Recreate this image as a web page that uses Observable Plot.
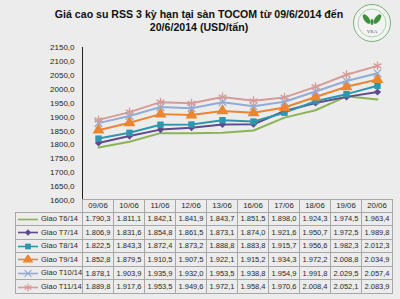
<!DOCTYPE html>
<html><head><meta charset="utf-8">
<script src="https://cdn.jsdelivr.net/npm/d3@7"></script>
<script src="https://cdn.jsdelivr.net/npm/@observablehq/plot@0.6"></script>
<style>
html,body{margin:0;padding:0;background:#ececec;}
#wrap{position:relative;width:400px;height:299px;overflow:hidden;background:#ececec;font-family:"Liberation Sans",Arial,sans-serif;}
#title{position:absolute;left:0;top:8px;width:398px;text-align:center;font-weight:bold;font-size:10.6px;line-height:13px;color:#111;}
#chart{position:absolute;left:0;top:0;}
#logo{position:absolute;left:352px;top:3px;}
table{position:absolute;left:15px;top:199px;border-collapse:collapse;table-layout:fixed;width:377px;font-size:7.5px;color:#2a2a2a;}
td,th{border:1px solid #a8a8a8;padding:0;text-align:center;white-space:nowrap;overflow:hidden;font-weight:normal;}
th{height:11.5px;font-size:7.8px;}
td{height:12.6px;}
th.blank{border:none;}
td.leg{text-align:left;}
td.leg svg{vertical-align:middle;margin-right:1px;}
</style></head>
<body>
<div id="wrap">
  <div id="chart"></div>
  <div id="title">Giá cao su RSS 3 kỳ hạn tại sàn TOCOM từ 09/6/2014 đến<br>20/6/2014 (USD/tấn)</div>
  <svg id="logo" width="40" height="40" viewBox="0 0 40 40">
    <circle cx="20" cy="20" r="18.5" fill="#f3f3f3" stroke="#7bb07b" stroke-width="1"/>
    <circle cx="20" cy="20" r="14" fill="none" stroke="#9cc79c" stroke-width="0.8"/>
    <ellipse cx="14.5" cy="16" rx="2.6" ry="5.5" fill="#3f8f3f" transform="rotate(-35 14.5 16)"/>
    <ellipse cx="25.5" cy="16" rx="2.6" ry="5.5" fill="#3f8f3f" transform="rotate(35 25.5 16)"/>
    <ellipse cx="20" cy="19" rx="1.6" ry="3" fill="#3f8f3f"/>
    <text x="20" y="29.5" text-anchor="middle" font-size="5" fill="#555" font-family="Liberation Serif">VRA</text>
  </svg>
</div>
<script>
const dates = ["09/06","10/06","11/06","12/06","13/06","16/06","17/06","18/06","19/06","20/06"];
const seriesNames = ["Giao T6/14","Giao T7/14","Giao T8/14","Giao T9/14","Giao T10/14","Giao T11/14"];
const t6  = [1790.3,1811.1,1842.1,1841.9,1843.7,1851.5,1898.0,1924.3,1974.5,1963.4];
const t7  = [1806.9,1831.6,1854.8,1861.5,1873.1,1874.0,1921.6,1950.7,1972.5,1989.8];
const t8  = [1822.5,1843.3,1872.4,1873.2,1888.8,1883.8,1915.7,1956.6,1982.3,2012.3];
const t9  = [1852.8,1879.5,1910.5,1907.5,1922.1,1915.2,1934.3,1972.2,2008.8,2034.9];
const t10 = [1878.1,1903.9,1935.9,1932.0,1953.5,1938.8,1954.9,1991.8,2029.5,2057.4];
const t11 = [1889.8,1917.6,1953.5,1949.6,1972.1,1958.4,1970.6,2008.4,2052.1,2083.9];
const yTicks = [1600,1650,1700,1750,1800,1850,1900,1950,2000,2050,2100,2150];

const values = [t6,t7,t8,t9,t10,t11];
const colors = ["#8db356","#5e4a8e","#2f97ad","#eb8530","#92acd6","#d69b97"];
const symbols = [null,"diamond2","square","triangle","times","asterisk"];
const strokeSym = [false,false,false,false,true,true];
const radii = [0,3.2,3.6,4.4,3.6,4.2];

const rows = [];
values.forEach((arr,s)=>arr.forEach((v,i)=>rows.push({series:seriesNames[s], s, date:dates[i], value:v})));

const marks = [];
seriesNames.forEach((name,s)=>{
  const d = rows.filter(r=>r.s===s);
  marks.push(Plot.line(d,{x:"date",y:"value",stroke:colors[s],strokeWidth:2}));
});
seriesNames.forEach((name,s)=>{
  if(!symbols[s]) return;
  const d = rows.filter(r=>r.s===s);
  marks.push(Plot.dot(d, strokeSym[s]
    ? {x:"date",y:"value",symbol:()=>symbols[s],r:radii[s],stroke:colors[s],strokeWidth:1.3,fill:"none"}
    : {x:"date",y:"value",symbol:()=>symbols[s],r:radii[s],fill:colors[s],stroke:"none"}));
});

const fmtY = d => d3.format(".1f")(d).replace(".", ",");
const chart = Plot.plot({
  width:400, height:200,
  marginLeft:82, marginRight:8, marginTop:47, marginBottom:0,
  style:{background:"transparent",fontFamily:"Liberation Sans, Arial, sans-serif",fontSize:"8px",color:"#222",overflow:"visible"},
  x:{type:"point",domain:dates,padding:0.5,axis:null},
  y:{domain:[1600,2150],ticks:yTicks,tickFormat:fmtY,tickSize:0,tickPadding:8,line:true,label:null},
  symbol:{type:"identity"},
  marks
});
document.getElementById("chart").appendChild(chart);
d3.select(chart).selectAll("[aria-label='y-axis'] path, [aria-label='y-axis'] line").attr("stroke","#9a9a9a");

// table
const fmtV = d3.formatLocale({decimal:",",thousands:".",grouping:[3],currency:["",""]}).format(",.1f");
const table = document.createElement("table");
let html = "<colgroup><col style='width:67px'>" + dates.map(()=>"<col style='width:31px'>").join("") + "</colgroup>";
html += "<tr><th class='blank'></th>" + dates.map(d=>`<th>${d}</th>`).join("") + "</tr>";
seriesNames.forEach((name,s)=>{
  let sw = `<svg width="24" height="9"><line x1="2" y1="4.5" x2="22" y2="4.5" stroke="${colors[s]}" stroke-width="1.6"/>`;
  if(symbols[s]){
    const size = Math.PI*radii[s]*radii[s]*0.8;
    const symMap={diamond2:d3.symbolDiamond2,square:d3.symbolSquare,triangle:d3.symbolTriangle,times:d3.symbolTimes,asterisk:d3.symbolAsterisk};
    const p = d3.symbol(symMap[symbols[s]], size)();
    sw += strokeSym[s] ? `<path d="${p}" transform="translate(12,4.5)" fill="none" stroke="${colors[s]}" stroke-width="1.1"/>`
                       : `<path d="${p}" transform="translate(12,4.5)" fill="${colors[s]}"/>`;
  }
  sw += "</svg>";
  html += `<tr><td class='leg'>${sw}${name}</td>` + values[s].map(v=>`<td>${fmtV(v)}</td>`).join("") + "</tr>";
});
table.innerHTML = html;
document.getElementById("wrap").appendChild(table);
</script>
</body></html>
